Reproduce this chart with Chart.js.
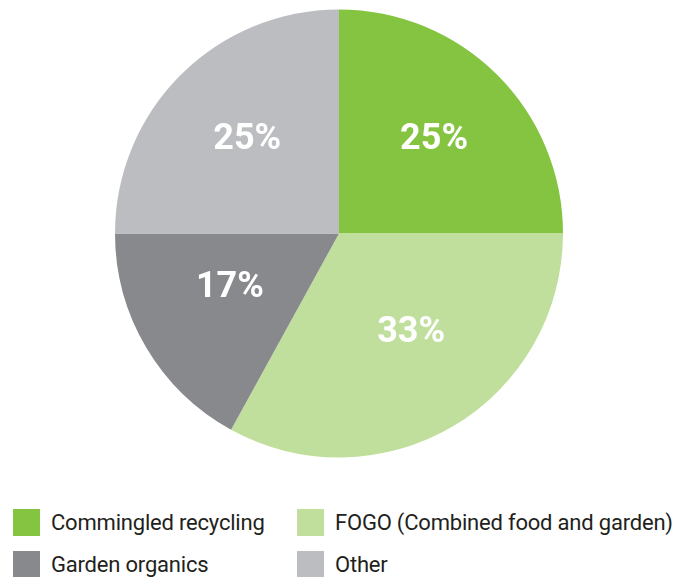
<html>
<head>
    <title>Waste streams</title>
    <meta name="viewport" content="width=device-width, initial-scale=1.0">
    <style>
        body {
            background-color: #ffffff;
            font-family: Roboto, Arial, sans-serif;
            margin: 0;
            padding: 0;
            width: 688px;
            height: 577px;
            overflow: hidden;
            position: relative;
        }
        .pie {
            position: absolute;
            left: 115px;
            top: 9px;
            width: 448px;
            height: 449px;
        }
        .legend {
            position: absolute;
            left: 0;
            top: 0;
        }
        .legend .item {
            position: absolute;
            height: 27px;
            display: flex;
            align-items: center;
            font-size: 22px;
            letter-spacing: -0.2px;
            color: #231f20;
            white-space: nowrap;
        }
        .legend .item span {
            width: 27px;
            height: 27px;
            display: inline-block;
            margin-right: 11px;
        }
    </style>
</head>
<body>
    <div class="pie"><canvas id="wasteChart"></canvas></div>
    <div class="legend" id="legend"></div>
    <script src="https://cdn.jsdelivr.net/npm/chart.js"></script>
    <script>
        const categories = ['Commingled recycling', 'FOGO (Combined food and garden)', 'Garden organics', 'Other'];
        const shares = [25, 33, 17, 25];
        const sliceColors = ['#84c441', '#c1df9c', '#87898d', '#bcbdc1'];

        // white percentage labels drawn inside each slice
        const sliceLabels = {
            id: 'sliceLabels',
            afterDatasetsDraw(chart, args, opts) {
                const ctx = chart.ctx;
                const meta = chart.getDatasetMeta(0);
                ctx.save();
                ctx.fillStyle = '#ffffff';
                ctx.font = 'bold 36px Roboto, Arial, sans-serif';
                ctx.textAlign = 'center';
                ctx.textBaseline = 'middle';
                meta.data.forEach((arc, i) => {
                    const mid = (arc.startAngle + arc.endAngle) / 2 + opts.turn[i] * Math.PI / 180;
                    const r = arc.outerRadius * opts.depth[i];
                    const x = arc.x + Math.cos(mid) * r;
                    const y = arc.y + Math.sin(mid) * r;
                    ctx.fillText(shares[i] + '%', x, y + 2);
                });
                ctx.restore();
            }
        };

        const wasteCtx = document.getElementById('wasteChart').getContext('2d');
        const wasteChart = new Chart(wasteCtx, {
            type: 'pie',
            data: {
                labels: categories,
                datasets: [{
                    data: shares,
                    backgroundColor: sliceColors,
                    borderWidth: 0
                }]
            },
            options: {
                responsive: true,
                maintainAspectRatio: false,
                animation: false,
                layout: { padding: 0 },
                plugins: {
                    legend: { display: false },
                    tooltip: { enabled: false },
                    sliceLabels: {
                        depth: [0.6, 0.54, 0.54, 0.59],
                        turn: [0, -6, 5, 1]
                    }
                }
            },
            plugins: [sliceLabels]
        });

        // two-column legend under the pie
        const legendSpots = [[13, 509], [297, 509], [13, 551], [297, 551]];
        const legendEl = document.getElementById('legend');
        categories.forEach((name, i) => {
            const item = document.createElement('div');
            item.className = 'item';
            item.style.left = legendSpots[i][0] + 'px';
            item.style.top = legendSpots[i][1] + 'px';
            item.innerHTML = '<span style="background-color:' + sliceColors[i] + '"></span>' + name;
            legendEl.appendChild(item);
        });
    </script>
</body>
</html>
